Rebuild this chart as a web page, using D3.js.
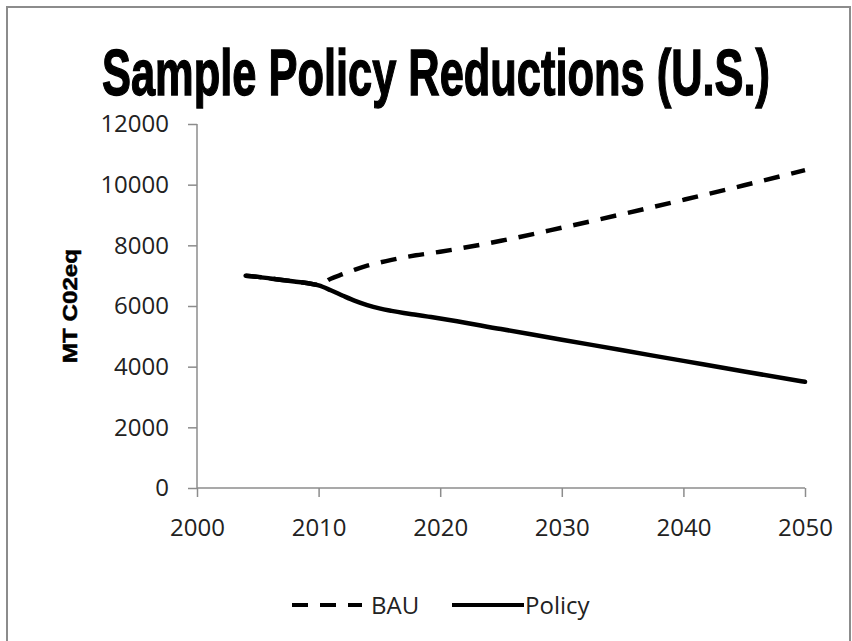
<!DOCTYPE html>
<html>
<head>
<meta charset="utf-8">
<script src="https://cdn.jsdelivr.net/npm/d3@7"></script>
<style>
    body { margin: 0; background: #fff; }
    .chart-line__title { font-family: "Liberation Sans Narrow", "Arial Narrow", sans-serif; font-weight: bold; }
    .chart-line__yLabel { font-family: "Liberation Sans Narrow", "Arial Narrow", sans-serif; font-weight: bold; }
    .chart-line__axis text { font-family: "Open Sans", sans-serif; fill: #222; }
    .chart-line__legend text { font-family: "Open Sans", sans-serif; fill: #222; }
</style>
</head>
<body>
<div id="chart"></div>
<script>
// DATA ---------------------------------------------------------------------
const years  = [2004, 2005, 2006, 2007, 2008, 2009, 2010, 2011, 2012, 2013, 2014, 2015, 2016, 2017, 2018, 2019, 2020, 2025, 2030, 2035, 2040, 2045, 2050];
const bau    = [7000, 6960, 6910, 6860, 6810, 6760, 6700, 6900, 7050, 7200, 7330, 7430, 7520, 7600, 7670, 7730, 7790, 8150, 8580, 9030, 9500, 9980, 10480];
const policy = [7000, 6960, 6910, 6860, 6810, 6760, 6680, 6520, 6340, 6170, 6030, 5920, 5840, 5770, 5710, 5650, 5590, 5240, 4890, 4540, 4190, 3840, 3500];
const xTicks = [2000, 2010, 2020, 2030, 2040, 2050];
const yTicks = [0, 2000, 4000, 6000, 8000, 10000, 12000];
const seriesNames = ["BAU", "Policy"];
// DATA ---------------------------------------------------------------------

const width = 852;
const height = 641;
const margins = { top: 124, right: 47, bottom: 153, left: 197 };
const mainClass = "chart-line";

const svg = d3.select("#chart")
    .append("svg")
    .attr("class", mainClass)
    .attr("width", width)
    .attr("height", height);

// frame round the whole chart
svg.append("rect")
    .attr("x", 7).attr("y", 7)
    .attr("width", 843).attr("height", 660)
    .attr("fill", "none")
    .attr("stroke", "#8c8c8c")
    .attr("stroke-width", 2);

// SCALES
const x = d3.scaleLinear()
    .domain([2000, 2050])
    .range([margins.left, width - margins.right]);
const y = d3.scaleLinear()
    .domain([0, 12000])
    .range([height - margins.bottom, margins.top]);

// TITLE
svg.append("text")
    .attr("class", `${mainClass}__title`)
    .attr("x", 102).attr("y", 95)
    .attr("font-size", 65)
    .attr("textLength", 668)
    .attr("lengthAdjust", "spacingAndGlyphs")
    .attr("stroke", "#000").attr("stroke-width", 1.4)
    .text("Sample Policy Reductions (U.S.)");

// Y LABEL
svg.append("text")
    .attr("class", `${mainClass}__yLabel`)
    .attr("transform", "translate(77, 306) rotate(-90)")
    .attr("text-anchor", "middle")
    .attr("font-size", 21)
    .attr("textLength", 114)
    .attr("lengthAdjust", "spacingAndGlyphs")
    .attr("stroke", "#000").attr("stroke-width", 0.5)
    .text("MT C02eq");

// AXES
const axisColor = "#8c8c8c";
const yAxis = svg.append("g")
    .attr("class", `${mainClass}__axis`)
    .attr("transform", `translate(${margins.left}, 0)`)
    .call(d3.axisLeft(y).tickValues(yTicks).tickSize(9).tickPadding(19).tickFormat(d3.format("d")));
const xAxis = svg.append("g")
    .attr("class", `${mainClass}__axis`)
    .attr("transform", `translate(0, ${height - margins.bottom})`)
    .call(d3.axisBottom(x).tickValues(xTicks).tickSize(9).tickPadding(22).tickFormat(d3.format("d")));

[xAxis, yAxis].forEach(ax => {
    ax.select(".domain").attr("stroke", axisColor).attr("stroke-width", 1.5);
    ax.selectAll(".tick line").attr("stroke", axisColor).attr("stroke-width", 1.5);
    ax.selectAll(".tick text").attr("font-size", 24).attr("fill", "#222");
});
// domain ends without outer ticks
xAxis.select(".domain").attr("d", `M${x(2000)},0H${x(2050)}`);
yAxis.select(".domain").attr("d", `M0,${y(12000)}V${y(0)}`);

// LINES
const lineGen = d3.line()
    .x((d, i) => x(years[i]))
    .y(d => y(d))
    .curve(d3.curveMonotoneX);

svg.append("path")
    .attr("class", `${mainClass}__line ${mainClass}__line--bau`)
    .attr("d", lineGen(bau))
    .attr("fill", "none")
    .attr("stroke", "#000")
    .attr("stroke-width", 4.5)
    .attr("stroke-dasharray", "16,12");

svg.append("path")
    .attr("class", `${mainClass}__line ${mainClass}__line--policy`)
    .attr("d", lineGen(policy))
    .attr("fill", "none")
    .attr("stroke", "#000")
    .attr("stroke-width", 4.5)
    .attr("stroke-linecap", "round");

// LEGEND
const legend = svg.append("g").attr("class", `${mainClass}__legend`);
const legendItems = [
    { name: seriesNames[0], x1: 292, x2: 362, tx: 371, dash: "16,12" },
    { name: seriesNames[1], x1: 452, x2: 524, tx: 525, dash: null },
];
legendItems.forEach(item => {
    legend.append("line")
        .attr("x1", item.x1).attr("x2", item.x2)
        .attr("y1", 605).attr("y2", 605)
        .attr("stroke", "#000")
        .attr("stroke-width", 4)
        .attr("stroke-dasharray", item.dash);
    legend.append("text")
        .attr("x", item.tx).attr("y", 614)
        .attr("font-size", 24)
        .text(item.name);
});
</script>
</body>
</html>
